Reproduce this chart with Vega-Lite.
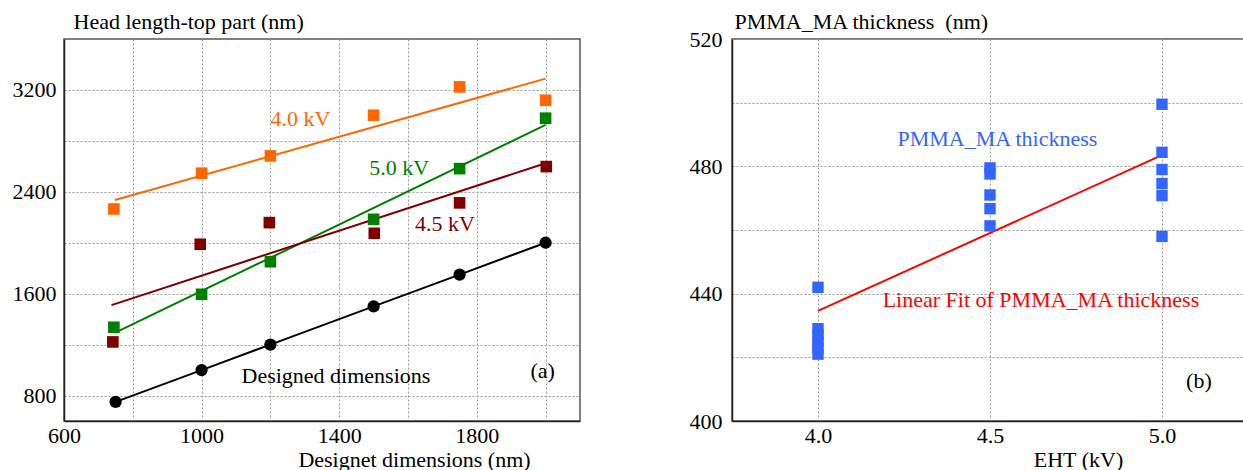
{
  "$schema": "https://vega.github.io/schema/vega-lite/v6.json",
  "padding": {"left": 11, "top": 9, "right": 0, "bottom": 0},
  "bounds": "flush",
  "background": "white",
  "config": {
    "concat": {"spacing": 152},
    "font": "Liberation Serif",
    "view": {"stroke": "#555555", "strokeWidth": 1.5},
    "axis": {
      "labelFont": "Liberation Serif", "labelFontSize": 22, "labelColor": "black",
      "titleFont": "Liberation Serif", "titleFontSize": 22, "titleFontWeight": "normal", "titleColor": "black",
      "ticks": false, "tickSize": 0,
      "domainColor": "#222222", "domainWidth": 1.5,
      "gridColor": "#9a9a9a", "gridDash": [2, 2], "gridWidth": 1, "gridOpacity": 1
    }
  },
  "datasets": {
    "leftpts": [
      {"x": 750, "y": 750, "series": "Designed"},
      {"x": 1000, "y": 1000, "series": "Designed"},
      {"x": 1200, "y": 1200, "series": "Designed"},
      {"x": 1500, "y": 1500, "series": "Designed"},
      {"x": 1750, "y": 1750, "series": "Designed"},
      {"x": 2000, "y": 2000, "series": "Designed"},
      {"x": 745, "y": 2265, "series": "4.0 kV"},
      {"x": 1000, "y": 2546, "series": "4.0 kV"},
      {"x": 1200, "y": 2682, "series": "4.0 kV"},
      {"x": 1500, "y": 3001, "series": "4.0 kV"},
      {"x": 1750, "y": 3224, "series": "4.0 kV"},
      {"x": 2000, "y": 3119, "series": "4.0 kV"},
      {"x": 745, "y": 1336, "series": "5.0 kV"},
      {"x": 1000, "y": 1595, "series": "5.0 kV"},
      {"x": 1200, "y": 1851, "series": "5.0 kV"},
      {"x": 1500, "y": 2184, "series": "5.0 kV"},
      {"x": 1750, "y": 2582, "series": "5.0 kV"},
      {"x": 2000, "y": 2978, "series": "5.0 kV"},
      {"x": 742, "y": 1221, "series": "4.5 kV"},
      {"x": 996, "y": 1988, "series": "4.5 kV"},
      {"x": 1197, "y": 2158, "series": "4.5 kV"},
      {"x": 1502, "y": 2074, "series": "4.5 kV"},
      {"x": 1750, "y": 2313, "series": "4.5 kV"},
      {"x": 2002, "y": 2598, "series": "4.5 kV"}
    ],
    "leftfit": [
      {"x": 748, "y": 2336, "series": "4.0 kV"},
      {"x": 2000, "y": 3289, "series": "4.0 kV"},
      {"x": 749, "y": 1294, "series": "5.0 kV"},
      {"x": 2000, "y": 2925, "series": "5.0 kV"},
      {"x": 738, "y": 1510, "series": "4.5 kV"},
      {"x": 2000, "y": 2624, "series": "4.5 kV"}
    ],
    "leftlabels": [
      {"x": 1200, "y": 2917, "text": "4.0 kV", "series": "4.0 kV"},
      {"x": 1487, "y": 2532, "text": "5.0 kV", "series": "5.0 kV"},
      {"x": 1620, "y": 2093, "text": "4.5 kV", "series": "4.5 kV"},
      {"x": 1116, "y": 901, "text": "Designed dimensions", "series": "Designed"},
      {"x": 1956, "y": 940, "text": "(a)", "series": "Designed"}
    ],
    "rightpts": [
      {"eht": 4.0, "t": 442.0},
      {"eht": 4.0, "t": 429.0},
      {"eht": 4.0, "t": 427.0},
      {"eht": 4.0, "t": 425.0},
      {"eht": 4.0, "t": 423.0},
      {"eht": 4.0, "t": 421.0},
      {"eht": 4.5, "t": 479.5},
      {"eht": 4.5, "t": 477.6},
      {"eht": 4.5, "t": 471.0},
      {"eht": 4.5, "t": 466.7},
      {"eht": 4.5, "t": 461.3},
      {"eht": 5.0, "t": 499.5},
      {"eht": 5.0, "t": 484.4},
      {"eht": 5.0, "t": 479.0},
      {"eht": 5.0, "t": 474.6},
      {"eht": 5.0, "t": 470.8},
      {"eht": 5.0, "t": 458.0}
    ],
    "rightfit": [
      {"eht": 4.0, "t": 434.6},
      {"eht": 5.0, "t": 483.5}
    ],
    "rightlabels": [
      {"eht": 4.231, "t": 486.4, "text": "PMMA_MA thickness", "kind": "data"},
      {"eht": 4.188, "t": 435.9, "text": "Linear Fit of PMMA_MA thickness", "kind": "fit"},
      {"eht": 5.07, "t": 410.5, "text": "(b)", "kind": "panel"}
    ]
  },
  "resolve": {"scale": {"color": "independent"}},
  "hconcat": [
    {
      "width": 516,
      "height": 382,
      "layer": [
        {
          "data": {"name": "leftfit"},
          "mark": {"type": "line", "strokeWidth": 2},
          "encoding": {
            "x": {"field": "x", "type": "quantitative", "scale": {"domain": [600, 2100], "nice": false, "zero": false},
              "axis": {"values": [600, 800, 1000, 1200, 1400, 1600, 1800, 2000], "labelExpr": "datum.value % 400 == 200 ? datum.label : ''",
                "format": "d", "labelPadding": 4, "title": "Designet dimensions (nm)", "titleX": 350, "titleY": 45, "titleAlign": "center", "titleBaseline": "alphabetic", "labelFlush": false}},
            "y": {"field": "y", "type": "quantitative", "scale": {"domain": [600, 3600], "nice": false, "zero": false},
              "axis": {"values": [800, 1200, 1600, 2000, 2400, 2800, 3200], "labelExpr": "datum.value % 800 == 0 ? datum.label : ''",
                "format": "d", "labelPadding": 8, "title": "Head length-top part (nm)", "titleAngle": 0, "titleX": 9, "titleY": -11, "titleAlign": "left", "titleBaseline": "alphabetic"}},
            "color": {"field": "series", "type": "nominal", "legend": null,
              "scale": {"domain": ["Designed", "4.0 kV", "5.0 kV", "4.5 kV"], "range": ["#000000", "#ff6600", "#008000", "#800000"]}},
            "detail": {"field": "series"}
          }
        },
        {
          "data": {"name": "leftpts"},
          "transform": [{"filter": "datum.series == 'Designed'"}],
          "mark": {"type": "line", "strokeWidth": 2, "color": "#000000"},
          "encoding": {
            "x": {"field": "x", "type": "quantitative"},
            "y": {"field": "y", "type": "quantitative"}
          }
        },
        {
          "data": {"name": "leftpts"},
          "transform": [{"filter": "datum.series == 'Designed'"}],
          "mark": {"type": "point", "shape": "circle", "filled": true, "size": 150, "opacity": 1, "color": "#000000"},
          "encoding": {
            "x": {"field": "x", "type": "quantitative"},
            "y": {"field": "y", "type": "quantitative"}
          }
        },
        {
          "data": {"name": "leftpts"},
          "transform": [{"filter": "datum.series != 'Designed'"}],
          "mark": {"type": "point", "shape": "square", "filled": true, "size": 135, "opacity": 1},
          "encoding": {
            "x": {"field": "x", "type": "quantitative"},
            "y": {"field": "y", "type": "quantitative"},
            "color": {"field": "series", "type": "nominal", "legend": null}
          }
        },
        {
          "data": {"name": "leftlabels"},
          "mark": {"type": "text", "align": "left", "baseline": "alphabetic", "fontSize": 22, "font": "Liberation Serif"},
          "encoding": {
            "x": {"field": "x", "type": "quantitative"},
            "y": {"field": "y", "type": "quantitative"},
            "text": {"field": "text"},
            "color": {"field": "series", "type": "nominal", "legend": null}
          }
        }
      ]
    },
    {
      "width": 516,
      "height": 382,
      "layer": [
        {
          "data": {"name": "rightfit"},
          "mark": {"type": "line", "strokeWidth": 2, "color": "#ff0000"},
          "encoding": {
            "x": {"field": "eht", "type": "quantitative", "scale": {"domain": [3.75, 5.25], "nice": false, "zero": false},
              "axis": {"values": [4.0, 4.5, 5.0], "format": ".1f", "labelPadding": 4, "title": "EHT (kV)", "titleX": 346, "titleY": 45, "titleAlign": "center", "titleBaseline": "alphabetic", "labelFlush": false}},
            "y": {"field": "t", "type": "quantitative", "scale": {"domain": [400, 520], "nice": false, "zero": false},
              "axis": {"values": [400, 420, 440, 460, 480, 500, 520], "labelExpr": "datum.value % 40 == 0 ? datum.label : ''",
                "format": "d", "labelPadding": 10, "title": "PMMA_MA thickness\u00a0 (nm)", "titleAngle": 0, "titleX": 2, "titleY": -11, "titleAlign": "left", "titleBaseline": "alphabetic"}}
          }
        },
        {
          "data": {"name": "rightpts"},
          "mark": {"type": "point", "shape": "square", "filled": true, "size": 130, "opacity": 1, "color": "#3366ff"},
          "encoding": {
            "x": {"field": "eht", "type": "quantitative"},
            "y": {"field": "t", "type": "quantitative"}
          }
        },
        {
          "data": {"name": "rightlabels"},
          "mark": {"type": "text", "align": "left", "baseline": "alphabetic", "fontSize": 22, "font": "Liberation Serif"},
          "encoding": {
            "x": {"field": "eht", "type": "quantitative"},
            "y": {"field": "t", "type": "quantitative"},
            "text": {"field": "text"},
            "color": {"field": "kind", "type": "nominal", "legend": null,
              "scale": {"domain": ["data", "fit", "panel"], "range": ["#3366ff", "#ff0000", "#000000"]}}
          }
        }
      ]
    }
  ]
}
